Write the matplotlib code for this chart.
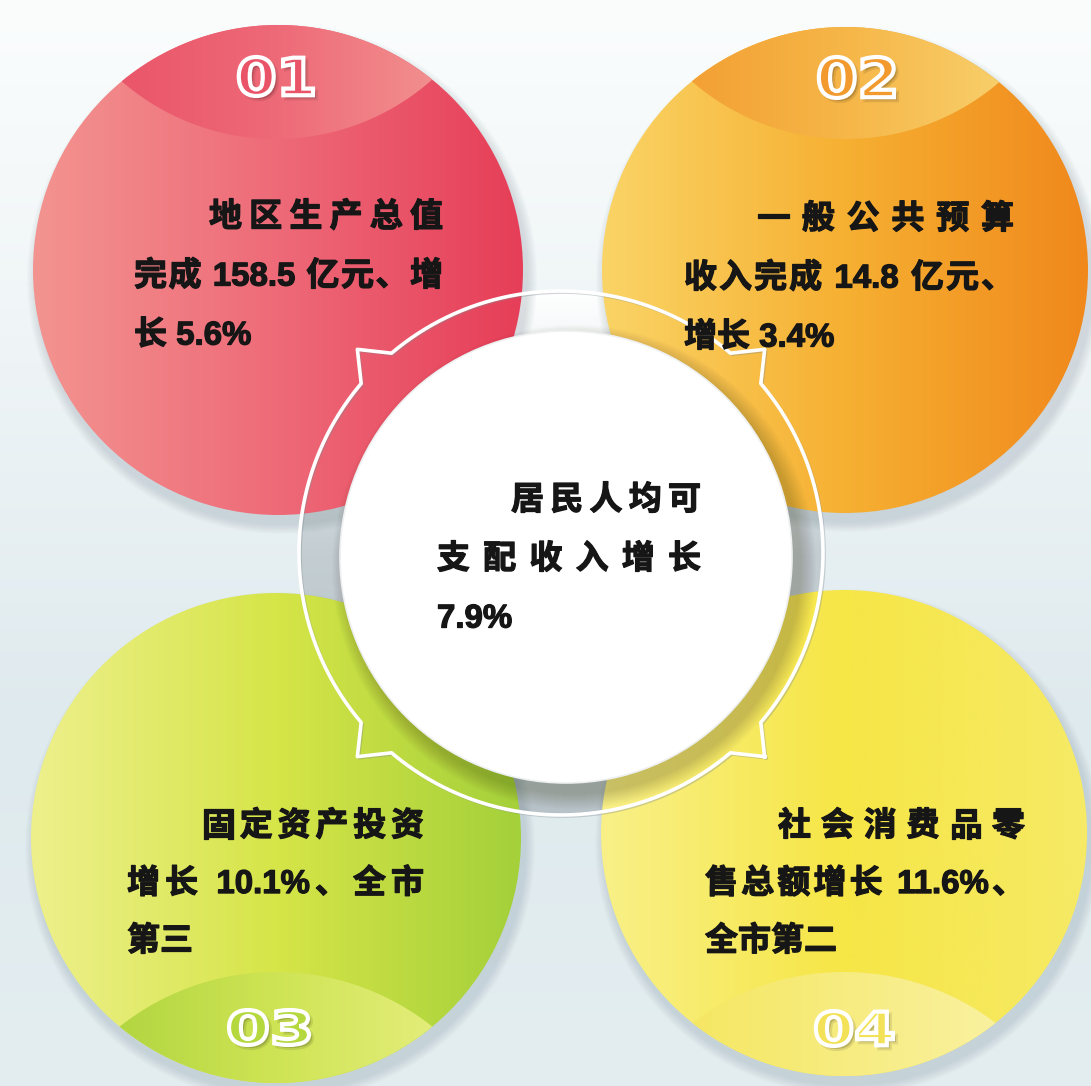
import re
import numpy as np
import matplotlib
matplotlib.use("Agg")
import matplotlib.pyplot as plt
import matplotlib.patheffects as pe
from matplotlib.patches import Circle, Polygon, PathPatch, Wedge
from matplotlib.colors import to_rgb
from matplotlib.textpath import TextPath
from matplotlib.font_manager import FontProperties
from matplotlib.path import Path

plt.rcParams['font.family'] = ['Liberation Sans', 'Noto Sans CJK SC', 'DejaVu Sans']

W, H = 1091, 1086

# ---- 数据 ----
badges = ["01", "02", "03", "04"]
gdp_total = 158.5       # 亿元
gdp_growth = 5.6        # %
budget_income = 14.8    # 亿元
budget_growth = 3.4     # %
invest_growth = 10.1    # %
retail_growth = 11.6    # %
income_growth = 7.9     # %
invest_rank = "第三"
retail_rank = "第二"

paragraphs = [
    ["地区生产总值", f"完成 {gdp_total} 亿元、增", f"长 {gdp_growth}%"],
    ["一般公共预算", f"收入完成 {budget_income} 亿元、", f"增长 {budget_growth}%"],
    ["固定资产投资", f"增长 {invest_growth}%、全市", invest_rank],
    ["社会消费品零", f"售总额增长 {retail_growth}%、", "全市" + retail_rank],
]
centre_lines = ["居民人均可", "支配收入增长", f"{income_growth}%"]

# ---- 版式 ----
circles = [(278, 270, 245), (845, 270, 243), (276, 838, 245), (844, 833, 243)]
bands = [(276, -96, 235), (846, -96, 235), (276, 1223, 251), (844, 1223, 251)]
badge_boxes = [(236, 313, 57, 96), (816, 894, 57, 98),
               (226, 309, 1010, 1045), (813, 893, 1011, 1046)]
main_colors = [["#f39490", "#ee6a78", "#e63e58"],
               ["#fad466", "#f6b032", "#f0881c"],
               ["#eef08c", "#d6e548", "#a4d03a"],
               ["#f9f088", "#f6e646", "#f6ea66"]]
band_colors = [["#e84a62", "#ee6a78", "#f4a49a"],
               ["#f29428", "#f6b648", "#f9dc7c"],
               ["#a2ce36", "#cfe454", "#eef28e"],
               ["#f4e452", "#f7ec80", "#fbf4b2"]]
badge_fill = ["#ea5468", "#f29a2e", "#b4d83e", "#f3e258"]
# x 左缘, 首行缩进, 右缘, 首行中心 y, 行距
text_boxes = [(134, 209, 443, 214, 59), (684, 757, 1014, 216, 59),
              (127, 202, 424, 823, 57.5), (705, 778, 1025, 823, 57.5)]
centre_box = (437, 511, 701, 497, 59)

ring_c, ring_r, tip_r = (561, 553), 262, 288
disc_c, disc_r = (566, 557), 226

fig = plt.figure(figsize=(W / 100, H / 100), dpi=100)
ax = fig.add_axes([0, 0, 1, 1])
ax.axis('off')


def gradient(stops, n=256):
    stops = np.array([to_rgb(c) for c in stops])
    xs = np.linspace(0, 1, len(stops))
    t = np.linspace(0, 1, n)
    return np.stack([np.interp(t, xs, stops[:, k]) for k in range(3)], axis=1)


def circle_lens(c1, r1, c2, r2, n=1440):
    t = np.linspace(0, 2 * np.pi, n, endpoint=False)
    p1 = np.c_[c1[0] + r1 * np.cos(t), c1[1] + r1 * np.sin(t)]
    p2 = np.c_[c2[0] + r2 * np.cos(t), c2[1] + r2 * np.sin(t)]
    p1 = p1[np.hypot(p1[:, 0] - c2[0], p1[:, 1] - c2[1]) <= r2]
    p2 = p2[np.hypot(p2[:, 0] - c1[0], p2[:, 1] - c1[1]) <= r1]
    pts = np.vstack([p1, p2])
    m = pts.mean(axis=0)
    order = np.argsort(np.arctan2(pts[:, 1] - m[1], pts[:, 0] - m[0]))
    return pts[order]


# 背景
bg = gradient(["#fbfdfd", "#eef4f6", "#dfeaee", "#e4eef1"], 200)
ax.imshow(bg[:, None, :].repeat(2, axis=1), extent=(0, W, H, 0),
          aspect='auto', interpolation='bicubic', zorder=0)

# 圆环内的灰色缝隙（在彩色圆之下）
gap = gradient(["#ffffff", "#e2e8eb", "#c3cdd2", "#bcc7cc", "#b6c2c7"], 200)
gap_im = ax.imshow(gap[:, None, :].repeat(2, axis=1),
                   extent=(ring_c[0] - ring_r, ring_c[0] + ring_r,
                           ring_c[1] + ring_r, ring_c[1] - ring_r),
                   aspect='auto', interpolation='bicubic', zorder=0.5)
gap_im.set_clip_path(Wedge(ring_c, ring_r, 0, 360, width=ring_r - disc_r + 10,
                           transform=ax.transData))

# 四个彩色圆
for (cx, cy, r), mc, bc, (bx, by, br) in zip(circles, main_colors, band_colors, bands):
    for k in range(10):
        ax.add_patch(Circle((cx + 4, cy + 9), r + 10 - k, color="#6f8692",
                            alpha=0.025, lw=0, zorder=1))
    clip = Circle((cx, cy), r, transform=ax.transData)
    im = ax.imshow(gradient(mc)[None], extent=(cx - r, cx + r, cy + r, cy - r),
                   aspect='auto', interpolation='bicubic', zorder=2)
    im.set_clip_path(clip)
    lens = Polygon(circle_lens((cx, cy), r, (bx, by), br), closed=True,
                   transform=ax.transData)
    im2 = ax.imshow(gradient(bc)[None], extent=(cx - r, cx + r, cy + r, cy - r),
                    aspect='auto', interpolation='bicubic', zorder=3)
    im2.set_clip_path(lens)

# 序号
bprop = FontProperties(family='DejaVu Sans', weight='bold')
for label, (x0, x1, y0, y1), fc in zip(badges, badge_boxes, badge_fill):
    tp = TextPath((0, 0), label, size=100, prop=bprop)
    v = tp.vertices.copy()
    xmin, xmax = v[:, 0].min(), v[:, 0].max()
    ymin, ymax = v[:, 1].min(), v[:, 1].max()
    nv = np.c_[x0 + (v[:, 0] - xmin) / (xmax - xmin) * (x1 - x0),
               y1 - (v[:, 1] - ymin) / (ymax - ymin) * (y1 - y0)]
    ax.add_patch(PathPatch(Path(nv + [3, 3], tp.codes), fc="#00000028",
                           ec="#00000018", lw=3, zorder=4))
    ax.add_patch(PathPatch(Path(nv, tp.codes), fc=fc, ec="white", lw=3, zorder=4.5))

# 中心白圆及其阴影
for k in range(16):
    ax.add_patch(Circle((disc_c[0] + 8, disc_c[1] + 10), disc_r + 16 - k,
                        color="#3c3a22", alpha=0.016, lw=0, zorder=6))
ax.add_patch(Circle(disc_c, disc_r, fc="white", ec="#eef0f1", lw=1.2, zorder=7))

# 带尖角的细圆环
notches = [45, 135, 225, 315]
half = 4.7
seq = []
for i, a in enumerate(notches):
    nxt = notches[(i + 1) % 4] + (360 if i == 3 else 0)
    seq.append((a, tip_r))
    for t in np.linspace(a + half, nxt - half, 90):
        seq.append((t, ring_r))
seq.append(seq[0])
ang = np.radians([s[0] for s in seq])
rad = np.array([s[1] for s in seq])
rx = ring_c[0] + rad * np.cos(ang)
ry = ring_c[1] + rad * np.sin(ang)
ax.plot(rx + 1.5, ry + 1.5, color="#7f8a8f", lw=2.0, alpha=0.35, zorder=8)
ax.plot(rx, ry, color="white", lw=2.6, zorder=8.5)

# 文字
renderer = fig.canvas.get_renderer()
font_px = 33
ink = "#161616"
tkw = dict(fontsize=font_px * 72 / 100, fontweight='bold', color=ink, zorder=9,
           path_effects=[pe.withStroke(linewidth=0.9, foreground=ink)])


def draw_line(text, x0, x1, y, justify):
    base = y + 0.38 * font_px
    if not justify:
        ax.text(x0, base, text, ha='left', va='baseline', **tkw)
        return
    tokens = re.findall(r'[0-9.%]+| |\S', text)
    widths = []
    for tok in tokens:
        if tok == ' ':
            widths.append(0.25 * font_px)
            continue
        t = ax.text(0, 0, tok, **tkw)
        widths.append(t.get_window_extent(renderer).width)
        t.remove()
    gap = (x1 - x0 - sum(widths)) / (len(tokens) - 1)
    x = x0
    for tok, w in zip(tokens, widths):
        if tok != ' ':
            ax.text(x, base, tok, ha='left', va='baseline', **tkw)
        x += w + gap


def draw_paragraph(lines, box):
    xl, xi, xr, y, pitch = box
    for i, line in enumerate(lines):
        last = i == len(lines) - 1
        draw_line(line, xi if i == 0 else xl, xr, y + i * pitch, not last)


for lines, box in zip(paragraphs, text_boxes):
    draw_paragraph(lines, box)
draw_paragraph(centre_lines, centre_box)

ax.set_xlim(0, W)
ax.set_ylim(H, 0)
fig.savefig("out.png", dpi=100)
